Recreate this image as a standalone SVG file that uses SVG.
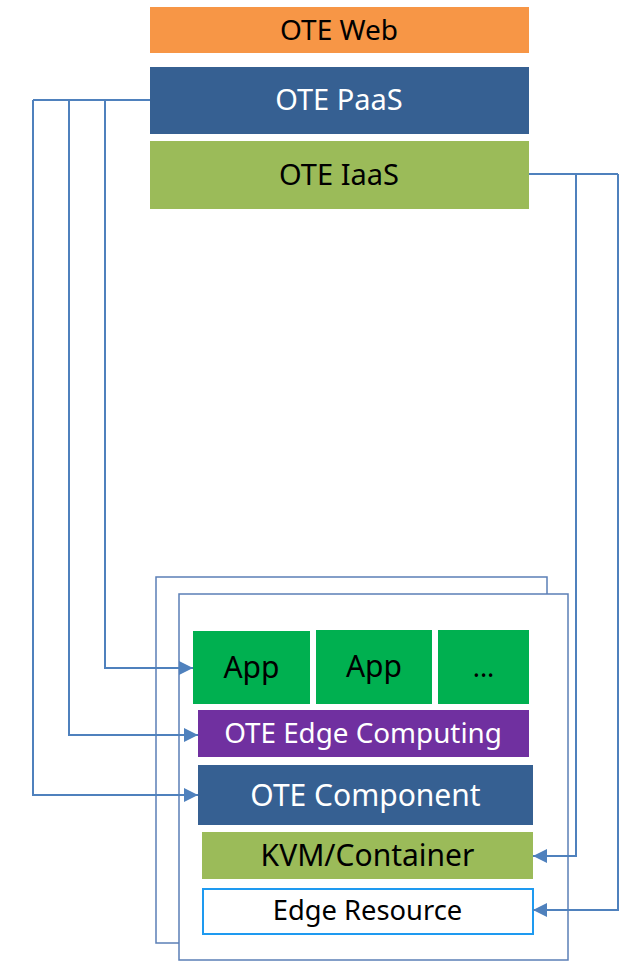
<svg xmlns="http://www.w3.org/2000/svg" width="629" height="966" viewBox="0 0 629 966">
<style>
text{font-family:"Noto Sans","Open Sans","DejaVu Sans",sans-serif;text-anchor:middle}
.dk{fill:#000}
.wt{fill:#fff}
.frame{fill:#fff;stroke:#5B7FB6;stroke-width:1.5}
.conn{fill:none;stroke:#4F81BD;stroke-width:2;marker-end:url(#arr)}
.seg{fill:none;stroke:#4F81BD;stroke-width:2}
</style>
<defs>
<marker id="arr" markerUnits="userSpaceOnUse" markerWidth="14" markerHeight="14" viewBox="0 0 14 14" refX="14" refY="7" orient="auto">
<path d="M0,0 L14,7 L0,14 Z" fill="#4F81BD"/>
</marker>
</defs>
<rect width="629" height="966" fill="#fff"/>
<g id="web"><rect x="150" y="7" width="379" height="46" fill="#F79646"/><text class="dk" x="339" y="40" font-size="28">OTE Web</text></g>
<g id="paas"><rect x="150" y="67" width="379" height="67" fill="#366092"/><text class="wt" x="339" y="110" font-size="29">OTE PaaS</text></g>
<g id="iaas"><rect x="150" y="141" width="379" height="68" fill="#9BBB59"/><text class="dk" x="339" y="185" font-size="29">OTE IaaS</text></g>
<g id="frame-back"><rect class="frame" x="156" y="577" width="391" height="366"/></g>
<g id="frame-front"><rect class="frame" x="179" y="594" width="389" height="366"/></g>
<g id="app1"><rect x="193" y="631" width="117" height="73" fill="#00B050"/><text class="dk" x="251.5" y="678" font-size="30">App</text></g>
<g id="app2"><rect x="316" y="630" width="116" height="74" fill="#00B050"/><text class="dk" x="374" y="677" font-size="30">App</text></g>
<g id="more"><rect x="438" y="630" width="91" height="74" fill="#00B050"/><text class="dk" x="483.5" y="677" font-size="27">...</text></g>
<g id="edge-computing"><rect x="198" y="710" width="331" height="47" fill="#7030A0"/><text class="wt" x="363" y="743" font-size="27.8">OTE Edge Computing</text></g>
<g id="component"><rect x="198" y="765" width="335" height="60" fill="#366092"/><text class="wt" x="365.5" y="806" font-size="30">OTE Component</text></g>
<g id="kvm"><rect x="202" y="832" width="331" height="47" fill="#9BBB59"/><text class="dk" x="367.5" y="866" font-size="30">KVM/Container</text></g>
<g id="edge-resource"><rect x="203" y="889" width="330" height="45" fill="#fff" stroke="#1E9AF0" stroke-width="2"/><text class="dk" x="367.5" y="920" font-size="27.3">Edge Resource</text></g>
<g id="connectors">
<path class="seg" d="M150,100 H33"/>
<path class="conn" d="M105,100 V668 H193"/>
<path class="conn" d="M69,100 V735 H198"/>
<path class="conn" d="M33,100 V795 H198"/>
<path class="seg" d="M529,174 H618"/>
<path class="conn" d="M576,174 V856 H533"/>
<path class="conn" d="M618,174 V910 H533"/>
</g>
</svg>
